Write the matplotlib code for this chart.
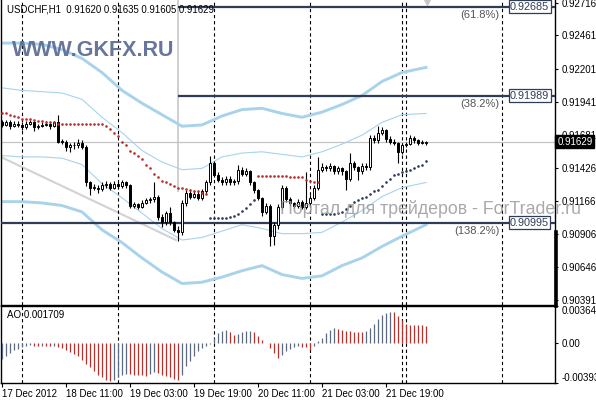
import matplotlib
matplotlib.use("Agg")
import matplotlib.pyplot as plt
from matplotlib.lines import Line2D
import matplotlib.transforms as mtransforms
import numpy as np

plt.rcParams['font.family'] = ['Liberation Sans', 'DejaVu Sans']

# ---- data (USDCHF H1) ----
first_open = 0.9178
closes = [0.9176, 0.9178, 0.9175, 0.9177, 0.9176, 0.9174, 0.9177, 0.9178, 0.9174, 0.9175,
          0.9176, 0.9177, 0.9175, 0.9178, 0.9163, 0.9163, 0.9159, 0.9160, 0.9160, 0.9162,
          0.9159, 0.9131, 0.9127, 0.9127, 0.9126, 0.9129, 0.9130, 0.9127, 0.9130, 0.9128,
          0.9131, 0.9129, 0.9113, 0.9114, 0.9112, 0.9115, 0.9117, 0.9118, 0.9120, 0.9104,
          0.9100, 0.9107, 0.9100, 0.9094, 0.9092, 0.9115, 0.9123, 0.9120, 0.9122, 0.9119,
          0.9124, 0.9131, 0.9146, 0.9137, 0.9133, 0.9131, 0.9134, 0.9131, 0.9132, 0.9141,
          0.9138, 0.9140, 0.9131, 0.9125, 0.9119, 0.9108, 0.9113, 0.9089, 0.9098, 0.9112,
          0.9127, 0.9118, 0.9115, 0.9113, 0.9116, 0.9112, 0.9115, 0.9119, 0.9127, 0.9141,
          0.9143, 0.9142, 0.9144, 0.9140, 0.9142, 0.9140, 0.9134, 0.9146, 0.9143, 0.9140,
          0.9144, 0.9143, 0.9166, 0.9164, 0.9170, 0.9172, 0.9165, 0.9163, 0.9162, 0.9155,
          0.9160, 0.9161, 0.9166, 0.9164, 0.9162, 0.9162, 0.91629]
highs = [0.9180, 0.9180, 0.9180, 0.9179, 0.9179, 0.9178, 0.9179, 0.9180, 0.9179, 0.9177,
         0.9178, 0.9179, 0.9178, 0.9179, 0.9184, 0.9165, 0.9164, 0.9162, 0.9163, 0.9165,
         0.9164, 0.9160, 0.9132, 0.9130, 0.9129, 0.9131, 0.9132, 0.9131, 0.9132, 0.9131,
         0.9133, 0.9132, 0.9130, 0.9116, 0.9115, 0.9117, 0.9119, 0.9120, 0.9131, 0.9121,
         0.9106, 0.9109, 0.9112, 0.9101, 0.9097, 0.9117, 0.9125, 0.9126, 0.9125, 0.9124,
         0.9126, 0.9133, 0.9152, 0.9148, 0.9139, 0.9135, 0.9136, 0.9136, 0.9134, 0.9145,
         0.9143, 0.9142, 0.9141, 0.9132, 0.9126, 0.9120, 0.9115, 0.9114, 0.9100, 0.9114,
         0.9129, 0.9128, 0.9120, 0.9116, 0.9118, 0.9117, 0.9139, 0.9121, 0.9129, 0.9151,
         0.9146, 0.9145, 0.9146, 0.9145, 0.9144, 0.9143, 0.9141, 0.9154, 0.9148, 0.9144,
         0.9146, 0.9146, 0.9168, 0.9168, 0.9175, 0.9174, 0.9173, 0.9167, 0.9165, 0.9163,
         0.9162, 0.9163, 0.9168, 0.9167, 0.9165, 0.9164, 0.91635]
lows = [0.9174, 0.9175, 0.9173, 0.9174, 0.9174, 0.9172, 0.9173, 0.9176, 0.9171, 0.9173,
        0.9174, 0.9175, 0.9173, 0.9174, 0.9162, 0.9161, 0.9156, 0.9155, 0.9157, 0.9158,
        0.9157, 0.9128, 0.9121, 0.9125, 0.9123, 0.9124, 0.9127, 0.9125, 0.9126, 0.9126,
        0.9127, 0.9127, 0.9111, 0.9111, 0.9110, 0.9111, 0.9114, 0.9115, 0.9116, 0.9102,
        0.9096, 0.9098, 0.9098, 0.9092, 0.9085, 0.9090, 0.9113, 0.9118, 0.9119, 0.9117,
        0.9117, 0.9122, 0.9129, 0.9135, 0.9131, 0.9129, 0.9129, 0.9129, 0.9129, 0.9130,
        0.9136, 0.9136, 0.9129, 0.9123, 0.9117, 0.9105, 0.9106, 0.9081, 0.9082, 0.9095,
        0.9110, 0.9116, 0.9113, 0.9111, 0.9111, 0.9110, 0.9110, 0.9113, 0.9117, 0.9125,
        0.9139, 0.9140, 0.9140, 0.9138, 0.9138, 0.9137, 0.9125, 0.9132, 0.9141, 0.9133,
        0.9138, 0.9141, 0.9141, 0.9162, 0.9162, 0.9168, 0.9163, 0.9161, 0.9160, 0.9146,
        0.9153, 0.9159, 0.9160, 0.9162, 0.9160, 0.9161, 0.91605]

# parabolic SAR, trend flips at these bars (starts in a downtrend)
sar = [0.9185, 0.9185, 0.9184, 0.9183, 0.9182, 0.9181, 0.9181, 0.9181, 0.9180, 0.9179,
       0.9179, 0.9178, 0.9178, 0.9178, 0.9177, 0.9177, 0.9177, 0.9177, 0.9177, 0.9177,
       0.9177, 0.9177, 0.9177, 0.9177, 0.9177, 0.9177, 0.9175, 0.9173, 0.9170, 0.9167,
       0.9163, 0.9160, 0.9156, 0.9154, 0.9152, 0.9149, 0.9145, 0.9142, 0.9138, 0.9135,
       0.9132, 0.9131, 0.9130, 0.9128, 0.9127, 0.9127, 0.9126, 0.9125, 0.9124, 0.9124,
       0.9123, 0.9122,
       0.9103, 0.9103, 0.9103, 0.9103, 0.9103, 0.9104, 0.9105, 0.9106, 0.9109, 0.9111,
       0.9114, 0.9117,
       0.9136, 0.9136, 0.9136, 0.9136, 0.9136, 0.9136, 0.9136, 0.9136, 0.9135, 0.9135,
       0.9135, 0.9135, 0.9133, 0.9132, 0.9131, 0.9131,
       0.9106, 0.9106, 0.9106, 0.9106, 0.9107, 0.9108, 0.9110, 0.9113, 0.9116, 0.9117,
       0.9119, 0.9120, 0.9122, 0.9124, 0.9125, 0.9128, 0.9131, 0.9134, 0.9137, 0.9138,
       0.9139, 0.9140, 0.9141, 0.9142, 0.9144, 0.9145, 0.9148]
sar_flips = [52, 64, 80]

# bands, sampled every 5 bars
band_bars = [0, 5, 10, 15, 20, 25, 30, 35, 40, 45, 50, 55, 60, 65, 70, 75, 80, 85, 90, 95, 100, 106]
outer_upper = [0.9240, 0.9240, 0.9239, 0.9235, 0.9228, 0.9217, 0.9203, 0.9193, 0.9184, 0.9175, 0.9176,
               0.9183, 0.9188, 0.9189, 0.9185, 0.9182, 0.9186, 0.9192, 0.9199, 0.9210, 0.9217, 0.9221]
outer_lower = [0.9116, 0.9116, 0.9115, 0.9113, 0.9108, 0.9094, 0.9084, 0.9072, 0.9061, 0.9052, 0.9053,
               0.9057, 0.9062, 0.9066, 0.9059, 0.9056, 0.9058, 0.9066, 0.9072, 0.9081, 0.9089, 0.9098]
inner_upper = [0.9205, 0.9203, 0.9202, 0.9201, 0.9196, 0.9182, 0.9170, 0.9156, 0.9147, 0.9141, 0.9142,
               0.9151, 0.9154, 0.9155, 0.9153, 0.9151, 0.9155, 0.9161, 0.9168, 0.9178, 0.9184, 0.9185]
inner_lower = [0.9152, 0.9151, 0.9151, 0.9150, 0.9145, 0.9130, 0.9119, 0.9107, 0.9095, 0.9086, 0.9088,
               0.9093, 0.9098, 0.9095, 0.9091, 0.9091, 0.9092, 0.9100, 0.9109, 0.9120, 0.9127, 0.9131]

ao = [-0.0016, -0.0013, -0.0010, -0.0007, -0.0006, -0.0004, -0.0003, -0.0002, -0.00025, -0.0003,
      -0.00028, -0.0003, -0.00033, -0.0003, -0.0004, -0.0005, -0.0007, -0.0009, -0.0011, -0.0013,
      -0.0017, -0.0021, -0.0024, -0.0027, -0.0031, -0.0033, -0.0036, -0.0037, -0.0036, -0.0033,
      -0.0031, -0.0030, -0.00302, -0.0031, -0.00312, -0.00315, -0.0032, -0.0030, -0.0028, -0.0029,
      -0.0031, -0.0032, -0.0033, -0.0035, -0.0036, -0.0031, -0.0023, -0.0018, -0.0013, -0.0008,
      -0.0005, -0.0003, -0.0001, 0.0005, 0.0010, 0.0012, 0.00125, 0.0011, 0.0008, 0.0009,
      0.0011, 0.00115, 0.0012, 0.0011, 0.0007, 0.0003, -0.00003, -0.0005, -0.0010, -0.0015,
      -0.0012, -0.0008, -0.0006, -0.0004, -0.0003, -0.00035, -0.0004, -0.0007, -0.0003, 0.0002,
      0.0005, 0.0010, 0.0013, 0.0015, 0.0014, 0.0013, 0.0012, 0.00117, 0.00113, 0.0011,
      0.00107, 0.00117, 0.0015, 0.0019, 0.0024, 0.0028, 0.0030, 0.0031, 0.00307, 0.0027,
      0.0023, 0.0019, 0.0018, 0.00177, 0.00175, 0.00173, 0.001709]

fib_levels = [0.92685, 0.91989, 0.90995]
fib_names = ['(61.8%)', '(38.2%)', '(138.2%)']
fib_start = [44, 44, -1]
current_price = 0.91629
day_lines = [5, 29, 53, 77, 100, 101, 125]
price_ticks = [0.92716, 0.92461, 0.92201, 0.91941, 0.91681, 0.91426, 0.91166, 0.90906, 0.90646, 0.90391]
time_bars = [0, 16, 32, 48, 64, 80, 96]
time_labels = ['17 Dec 2012', '18 Dec 11:00', '19 Dec 03:00', '19 Dec 19:00',
               '20 Dec 11:00', '21 Dec 03:00', '21 Dec 19:00']

# ---- layout ----
W, H = 596, 400
fig = plt.figure(figsize=(W / 100, H / 100), dpi=100)
ax = fig.add_axes([1 / W, 1 - 305 / H, 554 / W, 305 / H])
ao_ax = fig.add_axes([1 / W, 1 - 383 / H, 554 / W, 77 / H])

x = np.arange(len(closes))
c = np.array(closes)
o = np.array([first_open] + closes[:-1])

band_col = '#a8d3ea'
ax.plot(band_bars, outer_upper, color=band_col, lw=2.1, zorder=2)
ax.plot(band_bars, outer_lower, color=band_col, lw=2.1, zorder=2)
ax.plot(band_bars, inner_upper, color=band_col, lw=0.8, zorder=2)
ax.plot(band_bars, inner_lower, color=band_col, lw=0.8, zorder=2)

# fibo drawing: grey trend line + vertical, levels
ax.plot([-1, 43.5], [0.9152, 0.9086], color='#d2d2d2', lw=1.5, zorder=1)
ax.plot([44, 44], [0.9280, 0.9124], color='#cfcfcf', lw=1.4, zorder=1)
fib_col = '#2e3d55'
for lev, name, start in zip(fib_levels, fib_names, fib_start):
    ax.hlines(lev, start, 140, color=fib_col, lw=1.6, zorder=3)
    ax.annotate(name, (124.4, lev), xytext=(0, -2.5), textcoords='offset points',
                ha='right', va='top', fontsize=8, color='#555555', zorder=6)
    ax.text(127, lev, f'{lev:.5f}', ha='left', va='center', fontsize=7.8, color=fib_col, zorder=6,
            bbox=dict(boxstyle='square,pad=0.12', fc='white', ec=fib_col, lw=0.9))

ax.axhline(current_price, color='#c4c4c4', lw=0.9, zorder=1)

for b in day_lines:
    for a in (ax, ao_ax):
        a.axvline(b, color='black', lw=0.8, ls=(0, (3, 2.5)), zorder=1.5)

# candles
ax.vlines(x, lows, highs, color='black', lw=0.8, zorder=4)
body = np.maximum(np.abs(c - o), 0.00003)
ax.bar(x, body, bottom=np.minimum(o, c), width=0.72,
       color=np.where(c >= o, 'white', 'black'), edgecolor='black', linewidth=0.7, zorder=5)

# SAR dots
sar = np.array(sar)
edges = [0] + sar_flips + [len(sar)]
for k in range(len(edges) - 1):
    seg = slice(edges[k], edges[k + 1])
    col = '#b8302c' if k % 2 == 0 else '#2b3b5c'
    ax.scatter(x[seg], sar[seg], s=3.6, marker='o', color=col, lw=0, zorder=6)

ax.set_xlim(-0.25, 138.25)
ax.set_ylim(0.90352, 0.92737)
ax.set_xticks([])
ax.yaxis.tick_right()
ax.set_yticks(price_ticks)
ax.set_yticklabels([f'{t:.5f}' for t in price_ticks])
ax.tick_params(axis='y', labelsize=7, length=2.5, width=0.8, pad=2, colors='black')
ax.spines['top'].set_visible(False)
for s in ('left', 'right', 'bottom'):
    ax.spines[s].set_linewidth(1)

# current price tag
tr = mtransforms.blended_transform_factory(ax.transAxes, ax.transData)
ax.text(1.004, current_price, f'{current_price:.5f}', transform=tr, ha='left', va='center',
        fontsize=7, color='white', zorder=10, clip_on=False,
        bbox=dict(boxstyle='square,pad=0.18', fc='black', ec='black'))
# chart shift marker
ax.plot([106.3], [0.9272], marker='v', ms=5, color='#c8c8c8', zorder=2, clip_on=False)
fig.add_artist(Line2D([555.5 / W, 555.5 / W], [1 - 232 / H, 1 - 306 / H], color='black', lw=2.6))

ax.text(6 / 554, 1 - 10 / 305, 'USDCHF,H1  0.91620 0.91635 0.91605 0.91629', transform=ax.transAxes,
        ha='left', va='center', fontsize=6.9, color='black', zorder=10)

fig.text(12 / W, 1 - 51 / H, 'WWW.GKFX.RU', ha='left', va='center', fontsize=15.5,
         fontweight='bold', color='#5a6a92', alpha=0.92)
fig.text(280 / W, 1 - 209 / H, 'Портал для трейдеров - ForTrader.ru', ha='left', va='center',
         fontsize=12.8, color='#9a9a9a', alpha=0.85, zorder=20)

# AO panel
ao = np.array(ao)
rising = np.r_[True, ao[1:] >= ao[:-1]]
ao_ax.vlines(x, 0, ao, colors=np.where(rising, '#5d6b80', '#b8302c'), lw=0.9, zorder=3)
ao_ax.set_xlim(-0.25, 138.25)
ao_ax.set_ylim(-0.00393, 0.003647)
ao_ax.yaxis.tick_right()
ao_ax.set_yticks([0.003647, 0.0, -0.00393])
ao_ax.set_yticklabels(['0.003647', '0.00', '-0.00393'])
ao_ax.tick_params(axis='y', labelsize=7, length=2.5, width=0.8, pad=2)
ylabs = ao_ax.get_yticklabels()
ylabs[0].set_va('top')
ylabs[2].set_va('bottom')
ao_ax.set_xticks(time_bars)
ao_ax.set_xticklabels(time_labels)
ao_ax.tick_params(axis='x', labelsize=7, length=3, width=0.8, pad=1.5)
for lab in ao_ax.get_xticklabels():
    lab.set_ha('left')
for s in ao_ax.spines.values():
    s.set_linewidth(1)
ao_ax.text(6 / 554, 0.88, 'AO 0.001709', transform=ao_ax.transAxes, ha='left', va='center',
           fontsize=7, color='black')

fig.savefig('out.png', dpi=100, facecolor='white')
